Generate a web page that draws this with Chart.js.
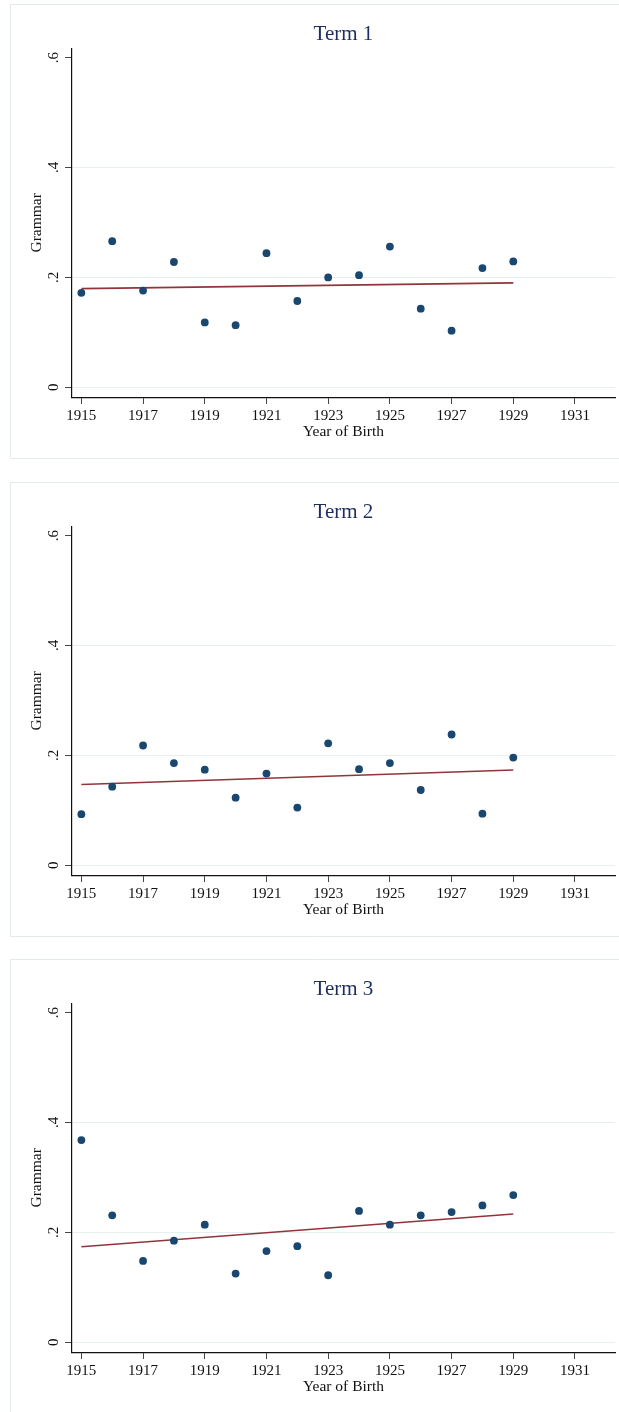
<!DOCTYPE html>
<html>
<head>
<meta charset="utf-8">
<script src="https://cdn.jsdelivr.net/npm/chart.js@4.4.1/dist/chart.umd.min.js"></script>
<style>
  html, body { margin: 0; padding: 0; background: #fff; overflow: hidden; }
  .panel { position: absolute; left: 0; width: 619px; height: 478px; }
</style>
</head>
<body>
<div class="panel" style="top:0px"><canvas id="term1" width="619" height="478"></canvas></div>
<div class="panel" style="top:478px"><canvas id="term2" width="619" height="478"></canvas></div>
<div class="panel" style="top:955px"><canvas id="term3" width="619" height="478"></canvas></div>
<script>
// data
const years = [1915, 1916, 1917, 1918, 1919, 1920, 1921, 1922, 1923, 1924, 1925, 1926, 1927, 1928, 1929];
const term1 = [0.172, 0.266, 0.176, 0.228, 0.118, 0.113, 0.244, 0.157, 0.200, 0.204, 0.256, 0.143, 0.103, 0.217, 0.229];
const term2 = [0.093, 0.143, 0.218, 0.186, 0.174, 0.123, 0.167, 0.105, 0.222, 0.175, 0.186, 0.137, 0.238, 0.094, 0.196];
const term3 = [0.368, 0.231, 0.148, 0.185, 0.214, 0.125, 0.166, 0.175, 0.122, 0.239, 0.214, 0.231, 0.237, 0.249, 0.268];

// fitted line end points (lfit)
const fitYears = [1915, 1929];
const fit1 = [0.1795, 0.1900];
const fit2 = [0.1470, 0.1735];
const fit3 = [0.1740, 0.2335];

const xTicks = [1915, 1917, 1919, 1921, 1923, 1925, 1927, 1929, 1931];
const yTicks = [0, 0.2, 0.4, 0.6];
const titles = ['Term 1', 'Term 2', 'Term 3'];

const SERIF = "'Liberation Serif', 'Times New Roman', serif";
const NAVY = '#1a476f';
const MAROON = '#90353b';
const GRIDC = '#e6eef0';

// light outer frame (open on the right, like the cropped Stata graph)
const framePlugin = {
    id: 'frame',
    beforeDraw(chart) {
        const ctx = chart.ctx;
        const w = chart.width;
        ctx.save();
        ctx.fillStyle = '#fff';
        ctx.fillRect(0, 0, w, chart.height);
        ctx.strokeStyle = '#e2eaec';
        ctx.lineWidth = 1;
        ctx.beginPath();
        ctx.moveTo(w + 5, 4.5);
        ctx.lineTo(10.5, 4.5);
        ctx.lineTo(10.5, 458.5);
        ctx.lineTo(w + 5, 458.5);
        ctx.stroke();
        ctx.restore();
    }
};

function makeChart(id, values, fit, title) {
    const ctx = document.getElementById(id).getContext('2d');
    return new Chart(ctx, {
        type: 'scatter',
        data: {
            datasets: [{
                data: years.map((y, i) => ({ x: y, y: values[i] })),
                backgroundColor: NAVY,
                borderColor: NAVY,
                borderWidth: 0,
                pointRadius: 3.9,
                pointHoverRadius: 3.9
            }, {
                type: 'line',
                data: fitYears.map((y, i) => ({ x: y, y: fit[i] })),
                borderColor: MAROON,
                borderWidth: 1.6,
                pointRadius: 0,
                fill: false
            }]
        },
        options: {
            responsive: false,
            animation: false,
            devicePixelRatio: 1,
            layout: { padding: { left: 0, right: 0, top: 0, bottom: 0 } },
            plugins: {
                legend: { display: false },
                tooltip: { enabled: false },
                title: { display: false }
            },
            scales: {
                x: {
                    type: 'linear',
                    position: 'bottom',
                    min: 1914.69,
                    max: 1932.3,
                    afterBuildTicks: s => { s.ticks = xTicks.map(v => ({ value: v })); },
                    afterFit: s => { s.height = 80.7; s.paddingLeft = 0; s.paddingRight = 0; },
                    border: { display: true, color: '#111', width: 1.2 },
                    grid: { drawOnChartArea: false, tickLength: 6.7, tickColor: '#444', tickWidth: 1 },
                    ticks: {
                        color: '#111',
                        padding: 3,
                        maxRotation: 0,
                        autoSkip: false,
                        font: { family: SERIF, size: 15 },
                        callback: v => String(v)
                    },
                    title: {
                        display: true,
                        text: 'Year of Birth',
                        color: '#111',
                        font: { family: SERIF, size: 15.5 },
                        padding: { top: 0, bottom: 36.7 }
                    }
                },
                xTop: {
                    type: 'linear',
                    position: 'top',
                    min: 1914.69,
                    max: 1932.3,
                    afterFit: s => { s.height = 48.3; },
                    border: { display: false },
                    grid: { display: false },
                    ticks: { display: false },
                    title: {
                        display: true,
                        text: title,
                        color: '#1e2d5c',
                        font: { family: SERIF, size: 21 },
                        padding: { top: 22.2, bottom: 0 }
                    }
                },
                y: {
                    type: 'linear',
                    min: -0.0182,
                    max: 0.6169,
                    afterBuildTicks: s => { s.ticks = yTicks.map(v => ({ value: v })); },
                    afterFit: s => { s.width = 71.8; },
                    border: { display: true, color: '#111', width: 1.2 },
                    grid: {
                        color: c => (c.tick && c.tick.value > 0.5) ? 'rgba(0,0,0,0)' : GRIDC,
                        lineWidth: 1,
                        tickLength: 6.7,
                        tickColor: '#444',
                        tickWidth: 1
                    },
                    ticks: {
                        color: '#111',
                        padding: 5.5,
                        minRotation: 90,
                        maxRotation: 90,
                        crossAlign: 'center',
                        font: { family: SERIF, size: 15 },
                        callback: v => v === 0 ? '0' : String(Math.round(v * 10) / 10).replace('0.', '.')
                    },
                    title: {
                        display: true,
                        text: 'Grammar',
                        color: '#111',
                        font: { family: SERIF, size: 15.5 },
                        padding: { top: 27.7, bottom: 0 }
                    }
                }
            }
        },
        plugins: [framePlugin]
    });
}

makeChart('term1', term1, fit1, titles[0]);
makeChart('term2', term2, fit2, titles[1]);
makeChart('term3', term3, fit3, titles[2]);
</script>
</body>
</html>
